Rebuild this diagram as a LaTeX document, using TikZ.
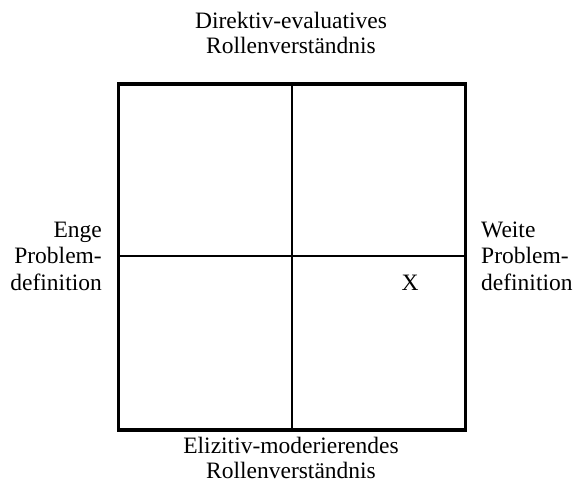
\documentclass[tikz,border=0pt]{standalone}
\usepackage{fontspec}
\setmainfont{Liberation Serif}
\begin{document}
\begin{tikzpicture}[x=1pt,y=-1pt,
  lbl/.style={inner sep=0pt,font=\fontsize{23.5}{25}\selectfont,align=center},
  side/.style={inner sep=0pt,font=\fontsize{23.5}{26.5}\selectfont},
  outer/.style={line width=3.5pt},
  inner/.style={line width=1.5pt}]
\useasboundingbox (0,0) rectangle (575,483);
\coordinate (tl) at (118.5,84);
\coordinate (br) at (465.5,430);
\coordinate (tm) at (292,84);
\coordinate (bm) at (292,430);
\coordinate (lm) at (118.5,256);
\coordinate (rm) at (465.5,256);
\draw[inner] (tm) -- (bm);
\draw[inner] (lm) -- (rm);
\draw[outer] (tl) rectangle (br);
\node[lbl,anchor=base] (top) at (291,53) {Direktiv-evaluatives\\Rollenverständnis};
\node[lbl,anchor=base] (bot) at (291,478) {Elizitiv-moderierendes\\Rollenverständnis};
\node[side,align=right,anchor=base east] (left) at (102,290) {Enge\\Problem-\\definition};
\node[side,align=left,anchor=base west] (right) at (481,290) {Weite\\Problem-\\definition};
\node[side,anchor=base] (x) at (410,290) {X};
\end{tikzpicture}
\end{document}
